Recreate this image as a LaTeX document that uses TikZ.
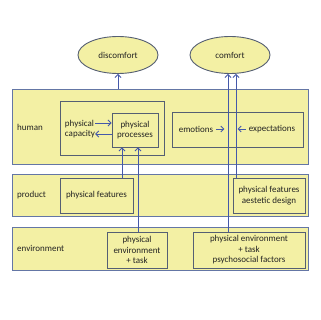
\documentclass[tikz,border=0pt]{standalone}
\usepackage{fontspec}
\setmainfont{Carlito}
\usetikzlibrary{arrows.meta}
\usetikzlibrary{shapes.geometric}

\definecolor{bandfill}{RGB}{243,240,164}
\definecolor{bandline}{RGB}{100,118,165}
\definecolor{boxline}{RGB}{85,95,115}
\definecolor{arrowblue}{RGB}{68,88,170}
\definecolor{textgray}{RGB}{35,35,35}

\tikzset{
	band/.style={draw=bandline, fill=bandfill, line width=0.9pt, minimum width=296pt, inner sep=0pt},
	box/.style={draw=boxline, fill=bandfill, line width=0.9pt, inner sep=0pt, align=center},
	feeling/.style={ellipse, draw=boxline, fill=bandfill, line width=0.9pt, inner sep=0pt, minimum width=80pt, minimum height=37pt},
	lbl/.style={inner sep=0pt, text=textgray, align=center},
	arr/.style={draw=arrowblue, line width=0.9pt, -{Straight Barb[length=3pt,width=6pt]}}
}

\begin{document}
\begin{tikzpicture}[x=1pt, y=-1pt, font=\fontsize{9}{10.5}\selectfont, text=textgray]
				\fill[white] (0,0) rectangle (320,320);
				\useasboundingbox (0,0) rectangle (320,320);
				% feelings
				\node[feeling] (discomfort) at (118,55) {discomfort};
				\node[feeling] (comfort) at (230,55) {comfort};
				% bands
				\node[band, minimum height=75pt] (human) at (160,126.5) {};
				\node[band, minimum height=42pt] (product) at (160,195) {};
				\node[band, minimum height=43pt] (environment) at (160,248.5) {};
				\node[lbl, anchor=west] (humanlbl) at (17,127) {human};
				\node[lbl, anchor=west] (productlbl) at (17,195) {product};
				\node[lbl, anchor=west] (envlbl) at (17,248) {environment};
				% human
				\node[box, minimum width=104pt, minimum height=54pt] (physgroup) at (112,128) {};
				\node[box, minimum width=46pt, minimum height=34pt] (proc) at (135,130) {physical\\processes};
				\node[lbl, align=left] (cap) at (80,129) {physical\\capacity};
				\node[box, minimum width=131pt, minimum height=35pt] (mindbox) at (237.5,129.5) {};
				\node[lbl] (emo) at (196,129) {emotions};
				\node[lbl] (expect) at (272,129) {expectations};
				% product
				\node[box, minimum width=73pt, minimum height=35pt] (physfeat) at (96.5,195.5) {physical features};
				\node[box, minimum width=72pt, minimum height=35pt] (aesth) at (269,195.5) {physical features\\aestetic design};
				% environment
				\node[box, minimum width=60pt, minimum height=36pt] (envA) at (137,250) {physical\\environment\\+ task};
				\node[box, minimum width=112pt, minimum height=36pt] (envB) at (249,250) {physical environment\\+ task\\psychosocial factors};
				\begin{scope}[arr]
					\draw ([yshift=6pt]cap.east) -- ([yshift=6pt]cap.east -| proc.west);
					\draw ([yshift=-5pt]cap.east -| proc.west) -- ([yshift=-5pt]cap.east);
					\draw (emo.east) ++(3pt,0) -- ++(8pt,0);
					\draw (expect.west) ++(-3pt,0) -- ++(-8pt,0);
					\draw (discomfort.south |- human.north) -- (discomfort.south);
					\draw ([xshift=-13pt]proc.south |- physfeat.north) -- ([xshift=-13pt]proc.south);
					\draw ([xshift=3pt]proc.south |- envA.north) -- ([xshift=3pt]proc.south);
					\draw ([xshift=-2pt]comfort.south |- envB.north) -- ([xshift=-2pt]comfort.south);
					\draw ([xshift=6pt]comfort.south |- aesth.north) -- ([xshift=6pt]comfort.south);
				\end{scope}
			\end{tikzpicture}
\end{document}
